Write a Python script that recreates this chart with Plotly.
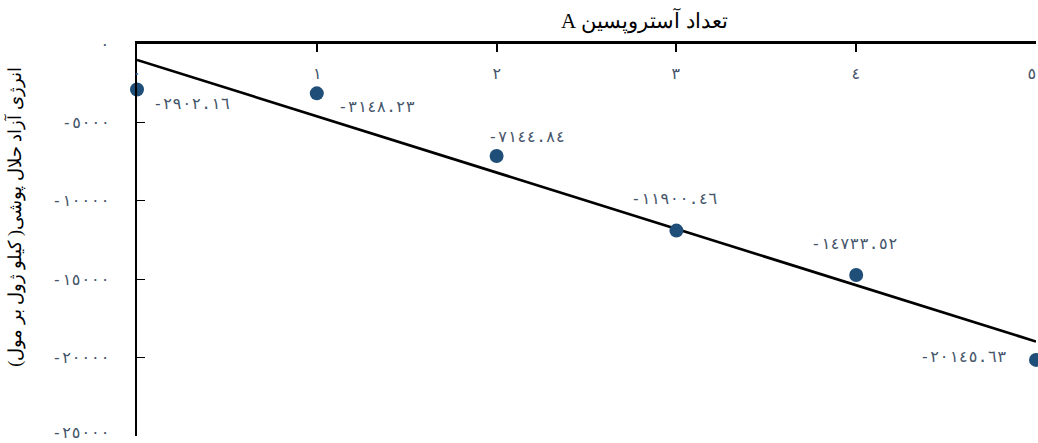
import numpy as np
import plotly.graph_objects as go

x_vals = [0, 1, 2, 3, 4, 5]
y_vals = [-2902.16, -3148.23, -7144.84, -11900.46, -14733.52, -20145.63]
x_tick_vals = [0, 1, 2, 3, 4, 5]
x_tick_text = ["٠", "١", "٢", "٣", "٤", "٥"]
y_tick_vals = [0, -5000, -10000, -15000, -20000, -25000]
y_tick_text = ["٠", "-٥٠٠٠", "-١٠٠٠٠", "-١٥٠٠٠", "-٢٠٠٠٠", "-٢٥٠٠٠"]
x_title = "تعداد آستروپسین A"
y_title = "انرژی آزاد حلال پوشی( کیلو ژول بر مول)"

# label offsets in pixels (layout only)
label_dx = [54, 60, 30, -2, -2, -73]
label_dy = [-14, -13, 20, 32, 32, 3]
xtick_dx = [0, 0, 0, 0, 0, -4]
ytick_dy = [0, 0, 0, 0, 0, 4]

AR = "0123456789"
EA = "٠١٢٣٤٥٦٧٨٩"


def to_ar(v):
    s = f"{v:.2f}"
    return "".join(EA[AR.index(c)] if c in AR else c for c in s)


labels = [to_ar(v) for v in y_vals]

slope, intercept = np.polyfit(x_vals, y_vals, 1)
fit_x = [x_vals[0], x_vals[-1]]
fit_y = [intercept + slope * xx for xx in fit_x]

LABEL_COLOR = "#44546A"
DIGIT_FONT = "DejaVu Sans Mono, DejaVu Sans, monospace"
TITLE_FONT = "Liberation Serif, DejaVu Serif, serif"
RLE, PDF = "\u202B", "\u202C"

fig = go.Figure()
fig.add_trace(go.Scatter(
    x=fit_x, y=fit_y, mode="lines",
    line=dict(color="black", width=2.7),
    hoverinfo="skip", showlegend=False, cliponaxis=False,
))
fig.add_trace(go.Scatter(
    x=x_vals, y=y_vals, mode="markers",
    marker=dict(color="#1F4E79", size=14),
    showlegend=False, cliponaxis=False,
))

annotations = [
    dict(text=lab, x=xv, y=yv, xref="x", yref="y", showarrow=False,
         xanchor="center", yanchor="middle", xshift=dx, yshift=dy,
         font=dict(color=LABEL_COLOR, size=16, family=DIGIT_FONT))
    for lab, xv, yv, dx, dy in zip(labels, x_vals, y_vals, label_dx, label_dy)
]
# x tick labels drawn below the top axis line
annotations += [
    dict(text=t, x=v, y=1, xref="x", yref="paper", showarrow=False,
         xanchor="center", yanchor="middle", xshift=dx, yshift=-29,
         font=dict(color=LABEL_COLOR, size=16, family=DIGIT_FONT))
    for t, v, dx in zip(x_tick_text, x_tick_vals, xtick_dx)
]
# y tick labels left of the axis
annotations += [
    dict(text=t, x=0, y=v, xref="paper", yref="y", showarrow=False,
         xanchor="right", yanchor="middle", xshift=-25, yshift=dy,
         font=dict(color=LABEL_COLOR, size=16, family=DIGIT_FONT))
    for t, v, dy in zip(y_tick_text, y_tick_vals, ytick_dy)
]
annotations += [
    dict(text=RLE + x_title + PDF, xref="paper", yref="paper", x=0.565, y=1,
         xanchor="center", yanchor="middle", yshift=24, showarrow=False,
         font=dict(color="black", size=21, family=TITLE_FONT)),
    dict(text=RLE + y_title + PDF, xref="paper", yref="paper", x=0, y=0.559,
         xanchor="center", yanchor="middle", xshift=-122, textangle=-90,
         showarrow=False, font=dict(color="black", size=18, family=TITLE_FONT)),
]

fig.update_layout(
    width=1038, height=443,
    margin=dict(l=137, r=2, t=44, b=7),
    paper_bgcolor="white", plot_bgcolor="white",
    font=dict(family=TITLE_FONT),
    xaxis=dict(
        side="top", range=[0, 5], showgrid=False, zeroline=False,
        showline=True, linecolor="black", linewidth=2.5,
        ticks="inside", ticklen=8, tickwidth=1.5, tickcolor="black",
        tickmode="array", tickvals=x_tick_vals, showticklabels=False,
    ),
    yaxis=dict(
        range=[-25000, 0], showgrid=False, zeroline=False,
        showline=True, linecolor="black", linewidth=2,
        ticks="inside", ticklen=8, tickwidth=1, tickcolor="black",
        tickmode="array", tickvals=y_tick_vals, showticklabels=False,
    ),
    annotations=annotations,
)

post = (
    "document.documentElement.style.overflow='hidden';"
    "document.body.style.margin='0';document.body.style.padding='0';"
    "document.body.style.overflow='hidden';"
)

fig.write_html("out.html", config={"displayModeBar": False}, post_script=post)
